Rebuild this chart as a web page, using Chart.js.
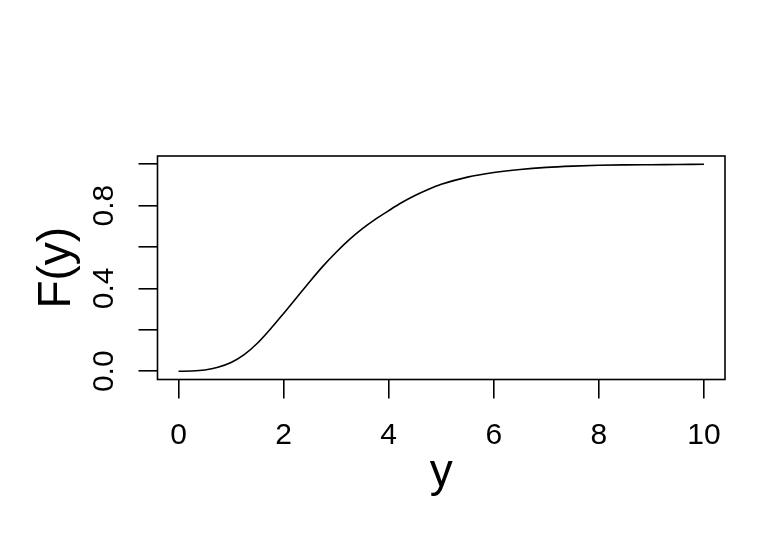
<!DOCTYPE html>
<html lang="en">
<head>
    <meta charset="UTF-8">
    <title>F(y)</title>
    <script src="https://cdn.jsdelivr.net/npm/chart.js"></script>
    <style>
        body { margin: 0; background: #fff; }
        #wrap { width: 768px; height: 537px; }
    </style>
</head>
<body>
    <div id="wrap"><canvas id="cdfChart" width="768" height="537"></canvas></div>

    <script>
        // values
        const yValues = [0, 0.25, 0.5, 0.75, 1, 1.25, 1.5, 1.75, 2, 2.25, 2.5, 2.75, 3, 3.25, 3.5, 3.75, 4, 4.25, 4.5, 4.75, 5, 5.5, 6, 6.5, 7, 7.5, 8, 8.5, 9, 9.5, 10];
        const cdfValues = [0, 0.001, 0.006, 0.019, 0.042, 0.08, 0.135, 0.204, 0.279, 0.356, 0.434, 0.508, 0.575, 0.636, 0.689, 0.735, 0.776, 0.815, 0.849, 0.878, 0.903, 0.938, 0.96, 0.975, 0.985, 0.991, 0.995, 0.997, 0.998, 0.999, 1.0];
        const xTicks = [0, 2, 4, 6, 8, 10];
        const yTicks = [0, 0.2, 0.4, 0.6, 0.8, 1.0];
        const yTickLabels = ['0.0', '', '0.4', '', '0.8', ''];
        const xTitle = 'y';
        const yTitle = 'F(y)';

        const points = yValues.map((v, i) => ({ x: v, y: cdfValues[i] }));
        const FONT = 'Liberation Sans, Arial, sans-serif';

        // box, rotated y labels and axis titles, R style
        const rDecor = {
            id: 'rDecor',
            afterDraw(chart) {
                const c = chart.ctx, a = chart.chartArea;
                const ys = chart.scales.y;
                c.save();
                c.strokeStyle = '#000';
                c.lineWidth = 1.6;
                c.strokeRect(a.left, a.top, a.right - a.left, a.bottom - a.top);

                c.fillStyle = '#000';
                c.textAlign = 'center';
                c.textBaseline = 'alphabetic';
                c.font = '30px ' + FONT;
                yTicks.forEach((t, i) => {
                    if (!yTickLabels[i]) return;
                    c.save();
                    c.translate(113, ys.getPixelForValue(t));
                    c.rotate(-Math.PI / 2);
                    c.fillText(yTickLabels[i], 0, 0);
                    c.restore();
                });

                c.font = '46px ' + FONT;
                c.save();
                c.translate(70, (a.top + a.bottom) / 2);
                c.rotate(-Math.PI / 2);
                c.fillText(yTitle, 0, 0);
                c.restore();
                c.fillText(xTitle, (a.left + a.right) / 2, 486);
                c.restore();
            }
        };

        const ctx = document.getElementById('cdfChart').getContext('2d');
        const cdfChart = new Chart(ctx, {
            type: 'scatter',
            data: {
                datasets: [{
                    data: points,
                    showLine: true,
                    borderColor: '#000',
                    borderWidth: 1.6,
                    pointRadius: 0,
                    cubicInterpolationMode: 'monotone',
                    fill: false
                }]
            },
            options: {
                responsive: false,
                animation: false,
                devicePixelRatio: 1,
                layout: { padding: { left: 0, right: 43, top: 156, bottom: 0 } },
                plugins: { legend: { display: false }, tooltip: { enabled: false } },
                scales: {
                    x: {
                        type: 'linear',
                        min: -0.4,
                        max: 10.4,
                        afterBuildTicks: (s) => { s.ticks = xTicks.map(v => ({ value: v })); },
                        afterFit: (s) => { s.height = 157.5; },
                        grid: { drawOnChartArea: false, drawTicks: true, tickLength: 19, color: '#000', lineWidth: 1.6 },
                        border: { display: false },
                        ticks: {
                            color: '#000',
                            font: { family: FONT, size: 30 },
                            padding: 19,
                            maxRotation: 0,
                            autoSkip: false,
                            callback: (v) => String(v)
                        }
                    },
                    y: {
                        type: 'linear',
                        min: -0.04,
                        max: 1.04,
                        afterBuildTicks: (s) => { s.ticks = yTicks.map(v => ({ value: v })); },
                        afterFit: (s) => { s.width = 157.5; },
                        grid: { drawOnChartArea: false, drawTicks: true, tickLength: 19, color: '#000', lineWidth: 1.6 },
                        border: { display: false },
                        ticks: { display: false }
                    }
                }
            },
            plugins: [rDecor]
        });
    </script>
</body>
</html>
